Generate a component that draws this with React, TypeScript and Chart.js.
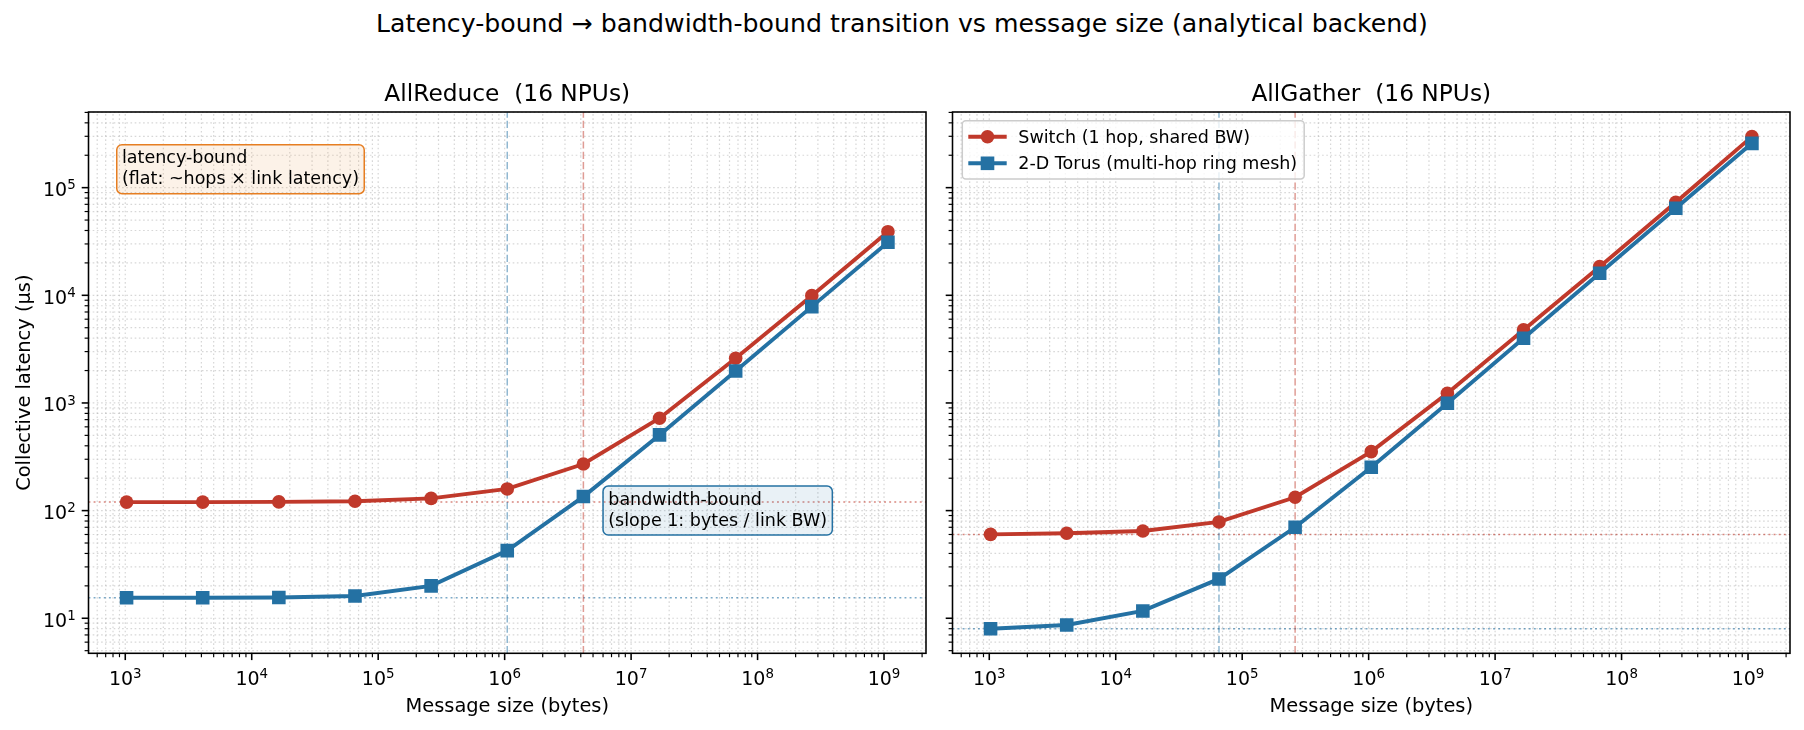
import React, { useEffect, useRef } from "react";
import { Chart, registerables } from "chart.js";

Chart.register(...registerables);

// ---------------- data ----------------
const messageSizes = [1024, 4096, 16384, 65536, 262144, 1048576, 4194304, 16777216, 67108864, 268435456, 1073741824];

const allReduceSwitch = [120, 120, 120.5, 122, 130, 159, 271, 721, 2600, 9930, 39000];
const allReduceTorus = [15.5, 15.5, 15.6, 16.1, 20, 42.5, 135, 505, 1980, 7850, 31100];
const allGatherSwitch = [60.2, 61.6, 64.7, 78.5, 133, 353, 1230, 4770, 18450, 73100, 298000];
const allGatherTorus = [8.0, 8.67, 11.7, 23.2, 70, 253, 995, 3990, 16000, 64400, 258000];

// crossover message sizes (bytes): [switch, torus]
const allReduceCrossover = [4194304, 1048576];
const allGatherCrossover = [262144, 65536];
// latency floors (µs): [switch, torus]
const allReduceFloor = [120, 15.5];
const allGatherFloor = [60, 8];

const seriesLabels = ["Switch (1 hop, shared BW)", "2-D Torus (multi-hop ring mesh)"];
const panelTitles = ["AllReduce  (16 NPUs)", "AllGather  (16 NPUs)"];
const xTitle = "Message size (bytes)";
const yTitle = "Collective latency (µs)";
const suptitle = "Latency-bound → bandwidth-bound transition vs message size (analytical backend)";
const latencyNote = ["latency-bound", "(flat: ~hops × link latency)"];
const bandwidthNote = ["bandwidth-bound", "(slope 1: bytes / link BW)"];
const bandwidthNoteAt = [6.6e6, 100];

// ---------------- style ----------------
const FONT = '"DejaVu Sans", "Liberation Sans", sans-serif';
const RED = "#c0392b";
const BLUE = "#2471a3";
const RED_A = (a: number) => `rgba(192,57,43,${a})`;
const BLUE_A = (a: number) => `rgba(36,113,163,${a})`;
const TICK_FS = 19;
const SUP_FS = 13.4;
const TITLE_FS = 23.3;
const LABEL_FS = 19.4;
const NOTE_FS = 17.5;
const LINE_W = 3.9;

// axis limits like matplotlib (5% margins in log space, shared y)
const lxs = messageSizes.map(Math.log10);
const xlo = Math.min(...lxs);
const xhi = Math.max(...lxs);
const X_MIN = Math.pow(10, xlo - 0.05 * (xhi - xlo));
const X_MAX = Math.pow(10, xhi + 0.05 * (xhi - xlo));
const lys = [...allReduceSwitch, ...allReduceTorus, ...allGatherSwitch, ...allGatherTorus].map(Math.log10);
const ylo = Math.min(...lys);
const yhi = Math.max(...lys);
const Y_MIN = Math.pow(10, ylo - 0.05 * (yhi - ylo));
const Y_MAX = Math.pow(10, yhi + 0.05 * (yhi - ylo));

function logTicks(min: number, max: number) {
  const out: { value: number; major: boolean }[] = [];
  for (let e = Math.floor(Math.log10(min)); e <= Math.ceil(Math.log10(max)); e++) {
    for (let m = 1; m <= 9; m++) {
      const v = m * Math.pow(10, e);
      if (v >= min && v <= max) out.push({ value: v, major: m === 1 });
    }
  }
  return out;
}

type PanelDef = {
  title: string;
  sw: number[];
  torus: number[];
  cross: number[];
  floor: number[];
  yLabels: boolean;
  legend: boolean;
  notes: boolean;
};

const panels: PanelDef[] = [
  { title: panelTitles[0], sw: allReduceSwitch, torus: allReduceTorus, cross: allReduceCrossover, floor: allReduceFloor, yLabels: true, legend: false, notes: true },
  { title: panelTitles[1], sw: allGatherSwitch, torus: allGatherTorus, cross: allGatherCrossover, floor: allGatherFloor, yLabels: false, legend: true, notes: false },
];

function roundRect(ctx: CanvasRenderingContext2D, x: number, y: number, w: number, h: number, r: number) {
  ctx.beginPath();
  ctx.moveTo(x + r, y);
  ctx.lineTo(x + w - r, y);
  ctx.arcTo(x + w, y, x + w, y + r, r);
  ctx.lineTo(x + w, y + h - r);
  ctx.arcTo(x + w, y + h, x + w - r, y + h, r);
  ctx.lineTo(x + r, y + h);
  ctx.arcTo(x, y + h, x, y + h - r, r);
  ctx.lineTo(x, y + r);
  ctx.arcTo(x, y, x + r, y, r);
  ctx.closePath();
}

function drawNote(ctx: CanvasRenderingContext2D, lines: string[], left: number, top: number, edge: string, face: string) {
  ctx.font = `${NOTE_FS}px ${FONT}`;
  const w = Math.max(...lines.map((l) => ctx.measureText(l).width));
  const lh = NOTE_FS * 1.2;
  const h = (lines.length - 1) * lh + NOTE_FS;
  const pad = 0.3 * NOTE_FS;
  roundRect(ctx, left - pad, top - pad, w + 2 * pad, h + 2 * pad, pad);
  ctx.fillStyle = face;
  ctx.fill();
  ctx.strokeStyle = edge;
  ctx.lineWidth = 1.5;
  ctx.setLineDash([]);
  ctx.stroke();
  ctx.fillStyle = "#000";
  ctx.textAlign = "left";
  ctx.textBaseline = "alphabetic";
  lines.forEach((l, i) => ctx.fillText(l, left, top + NOTE_FS * 0.766 + i * lh));
}

function drawPow10(ctx: CanvasRenderingContext2D, e: number, x: number, baseline: number, align: "center" | "right") {
  const base = "10";
  const sup = String(e);
  ctx.font = `${TICK_FS}px ${FONT}`;
  const wb = ctx.measureText(base).width;
  ctx.font = `${SUP_FS}px ${FONT}`;
  const ws = ctx.measureText(sup).width;
  const total = wb + ws;
  const left = align === "center" ? x - total / 2 : x - total;
  ctx.textAlign = "left";
  ctx.textBaseline = "alphabetic";
  ctx.fillStyle = "#000";
  ctx.font = `${TICK_FS}px ${FONT}`;
  ctx.fillText(base, left, baseline);
  ctx.font = `${SUP_FS}px ${FONT}`;
  ctx.fillText(sup, left + wb, baseline - 6.7);
}

function decorPlugin(p: PanelDef) {
  return {
    id: "panelDecor",
    beforeDatasetsDraw(chart: any) {
      // dotted major + minor grid (matplotlib grid(which="both", ls=":"))
      const ctx: CanvasRenderingContext2D = chart.ctx;
      const a = chart.chartArea;
      const xs = chart.scales.x;
      const ys = chart.scales.y;
      ctx.save();
      ctx.strokeStyle = "rgba(176,176,176,0.5)";
      ctx.lineWidth = 1.2;
      ctx.setLineDash([1.6, 2.6]);
      for (const t of xs.ticks) {
        const px = xs.getPixelForValue(t.value);
        ctx.beginPath();
        ctx.moveTo(px, a.bottom);
        ctx.lineTo(px, a.top);
        ctx.stroke();
      }
      for (const t of ys.ticks) {
        const py = ys.getPixelForValue(t.value);
        ctx.beginPath();
        ctx.moveTo(a.left, py);
        ctx.lineTo(a.right, py);
        ctx.stroke();
      }
      ctx.restore();
    },
    afterDatasetsDraw(chart: any) {
      const ctx: CanvasRenderingContext2D = chart.ctx;
      const a = chart.chartArea;
      const xs = chart.scales.x;
      const ys = chart.scales.y;
      const W = a.right - a.left;
      const H = a.bottom - a.top;
      ctx.save();

      // annotations
      if (p.notes) {
        drawNote(ctx, latencyNote, a.left + 0.04 * W, a.top + 0.07 * H, "#e67e22", "rgba(230,126,34,0.1)");
        ctx.font = `${NOTE_FS}px ${FONT}`;
        const h = NOTE_FS * 1.2 + NOTE_FS;
        const cy = ys.getPixelForValue(bandwidthNoteAt[1]);
        drawNote(ctx, bandwidthNote, xs.getPixelForValue(bandwidthNoteAt[0]), cy - h / 2, BLUE, "rgba(36,113,163,0.1)");
      }

      // legend
      if (p.legend) {
        const bx = a.left + 9.8;
        const by = a.top + 8.7;
        ctx.font = `${NOTE_FS}px ${FONT}`;
        const tw = Math.max(...seriesLabels.map((s) => ctx.measureText(s).width));
        const bw = 56 + tw + 7;
        const bh = 58.3;
        roundRect(ctx, bx, by, bw, bh, 3.5);
        ctx.fillStyle = "rgba(255,255,255,0.8)";
        ctx.fill();
        ctx.strokeStyle = "#cccccc";
        ctx.lineWidth = 1.5;
        ctx.setLineDash([]);
        ctx.stroke();
        const rows = [
          { label: seriesLabels[0], color: RED, shape: "circle" },
          { label: seriesLabels[1], color: BLUE, shape: "square" },
        ];
        rows.forEach((r, i) => {
          const cy = by + 16 + i * 26.6;
          ctx.strokeStyle = r.color;
          ctx.lineWidth = LINE_W;
          ctx.beginPath();
          ctx.moveTo(bx + 6, cy);
          ctx.lineTo(bx + 44.4, cy);
          ctx.stroke();
          ctx.fillStyle = r.color;
          const mx = bx + 25.2;
          if (r.shape === "circle") {
            ctx.beginPath();
            ctx.arc(mx, cy, 6.8, 0, Math.PI * 2);
            ctx.fill();
          } else {
            ctx.fillRect(mx - 6.8, cy - 6.8, 13.6, 13.6);
          }
          ctx.fillStyle = "#000";
          ctx.font = `${NOTE_FS}px ${FONT}`;
          ctx.textAlign = "left";
          ctx.textBaseline = "alphabetic";
          ctx.fillText(r.label, bx + 56, cy + 5.8);
        });
      }

      // frame
      ctx.setLineDash([]);
      ctx.strokeStyle = "#000";
      ctx.lineWidth = 1.56;
      ctx.strokeRect(a.left, a.top, W, H);

      // tick marks
      for (const t of xs.ticks) {
        const px = xs.getPixelForValue(t.value);
        ctx.lineWidth = t.major ? 1.56 : 1.17;
        ctx.beginPath();
        ctx.moveTo(px, a.bottom);
        ctx.lineTo(px, a.bottom + (t.major ? 6.8 : 3.9));
        ctx.stroke();
      }
      for (const t of ys.ticks) {
        const py = ys.getPixelForValue(t.value);
        ctx.lineWidth = t.major ? 1.56 : 1.17;
        ctx.beginPath();
        ctx.moveTo(a.left, py);
        ctx.lineTo(a.left - (t.major ? 6.8 : 3.9), py);
        ctx.stroke();
      }

      // tick labels
      for (const t of xs.ticks) {
        if (!t.major) continue;
        drawPow10(ctx, Math.round(Math.log10(t.value)), xs.getPixelForValue(t.value), a.bottom + 31.7, "center");
      }
      if (p.yLabels) {
        for (const t of ys.ticks) {
          if (!t.major) continue;
          drawPow10(ctx, Math.round(Math.log10(t.value)), a.left - 12.8, ys.getPixelForValue(t.value) + 8.5, "right");
        }
      }

      // titles
      ctx.fillStyle = "#000";
      ctx.textAlign = "center";
      ctx.textBaseline = "alphabetic";
      ctx.font = `${TITLE_FS}px ${FONT}`;
      ctx.fillText(p.title, (a.left + a.right) / 2, a.top - 11);
      ctx.font = `${LABEL_FS}px ${FONT}`;
      ctx.fillText(xTitle, (a.left + a.right) / 2, a.bottom + 58.4);
      if (p.yLabels) {
        ctx.save();
        ctx.translate(29.5, (a.top + a.bottom) / 2);
        ctx.rotate(-Math.PI / 2);
        ctx.fillText(yTitle, 0, 0);
        ctx.restore();
      }
      ctx.restore();
    },
  };
}

function makeConfig(p: PanelDef, padding: any): any {
  const pts = (ys: number[]) => messageSizes.map((x, i) => ({ x, y: ys[i] }));
  return {
    type: "line",
    data: {
      datasets: [
        {
          label: seriesLabels[1],
          data: pts(p.torus),
          borderColor: BLUE,
          backgroundColor: BLUE,
          pointBackgroundColor: BLUE,
          borderWidth: LINE_W,
          pointStyle: "rect",
          pointRadius: 9.6,
          pointBorderWidth: 0,
          tension: 0,
          order: 1,
        },
        {
          label: seriesLabels[0],
          data: pts(p.sw),
          borderColor: RED,
          backgroundColor: RED,
          pointBackgroundColor: RED,
          borderWidth: LINE_W,
          pointStyle: "circle",
          pointRadius: 6.8,
          pointBorderWidth: 0,
          tension: 0,
          order: 2,
        },
        {
          label: "switch crossover",
          data: [{ x: p.cross[0], y: Y_MIN }, { x: p.cross[0], y: Y_MAX }],
          borderColor: RED_A(0.5),
          borderWidth: 1.5,
          borderDash: [7.2, 3.1],
          pointRadius: 0,
          order: 3,
        },
        {
          label: "torus crossover",
          data: [{ x: p.cross[1], y: Y_MIN }, { x: p.cross[1], y: Y_MAX }],
          borderColor: BLUE_A(0.5),
          borderWidth: 1.5,
          borderDash: [7.2, 3.1],
          pointRadius: 0,
          order: 3,
        },
        {
          label: "switch floor",
          data: [{ x: X_MIN, y: p.floor[0] }, { x: X_MAX, y: p.floor[0] }],
          borderColor: RED_A(0.6),
          borderWidth: 1.5,
          borderDash: [1.9, 3.2],
          pointRadius: 0,
          order: 3,
        },
        {
          label: "torus floor",
          data: [{ x: X_MIN, y: p.floor[1] }, { x: X_MAX, y: p.floor[1] }],
          borderColor: BLUE_A(0.6),
          borderWidth: 1.5,
          borderDash: [1.9, 3.2],
          pointRadius: 0,
          order: 3,
        },
      ],
    },
    options: {
      animation: false,
      responsive: false,
      events: [],
      layout: { padding },
      plugins: { legend: { display: false }, tooltip: { enabled: false }, title: { display: false } },
      scales: {
        x: {
          type: "logarithmic",
          min: X_MIN,
          max: X_MAX,
          bounds: "data",
          ticks: { display: false, autoSkip: false },
          grid: { display: false, drawTicks: false },
          border: { display: false },
          afterBuildTicks: (s: any) => {
            s.ticks = logTicks(X_MIN, X_MAX);
          },
        },
        y: {
          type: "logarithmic",
          min: Y_MIN,
          max: Y_MAX,
          bounds: "data",
          ticks: { display: false, autoSkip: false },
          grid: { display: false, drawTicks: false },
          border: { display: false },
          afterBuildTicks: (s: any) => {
            s.ticks = logTicks(Y_MIN, Y_MAX);
          },
        },
      },
    },
    plugins: [decorPlugin(p)],
  };
}

function Panel({ p, left, width, padding }: { p: PanelDef; left: number; width: number; padding: any }) {
  const ref = useRef<HTMLCanvasElement>(null);
  useEffect(() => {
    const chart = new Chart(ref.current as HTMLCanvasElement, makeConfig(p, padding));
    return () => chart.destroy();
  }, []);
  return (
    <canvas
      ref={ref}
      width={width}
      height={730}
      style={{ position: "absolute", left, top: 0, width, height: 730 }}
    />
  );
}

export default function App() {
  return (
    <div style={{ position: "absolute", left: 0, top: 0, width: 1804, height: 730, background: "#fff", overflow: "hidden" }}>
      <div
        style={{
          position: "absolute",
          left: 0,
          top: 9,
          width: 1804,
          textAlign: "center",
          fontFamily: FONT,
          fontSize: 25.2,
          lineHeight: "30px",
          color: "#000",
          whiteSpace: "nowrap",
        }}
      >
        {suptitle}
      </div>
      <Panel p={panels[0]} left={0} width={940} padding={{ left: 88.5, top: 112, right: 14, bottom: 76.7 }} />
      <Panel p={panels[1]} left={940} width={864} padding={{ left: 12.5, top: 112, right: 14, bottom: 76.7 }} />
    </div>
  );
}
